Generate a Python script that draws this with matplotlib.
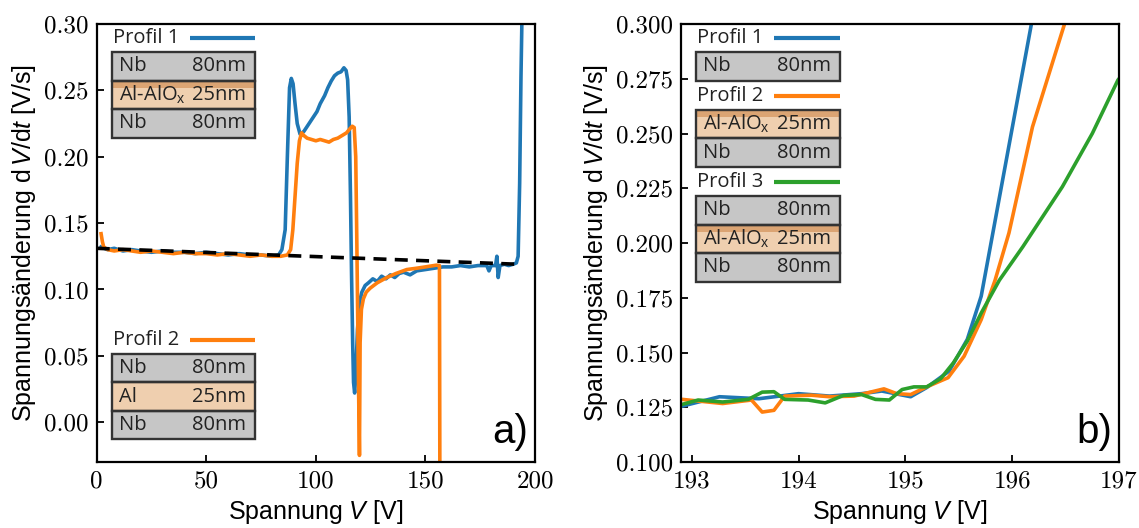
import numpy as np
import matplotlib
matplotlib.use("Agg")
import matplotlib.pyplot as plt
from matplotlib.patches import Rectangle
from matplotlib.ticker import FormatStrFormatter

plt.rcParams['font.family'] = ['Liberation Sans', 'DejaVu Sans']
plt.rcParams['mathtext.fontset'] = 'custom'
plt.rcParams['mathtext.rm'] = 'Liberation Sans'
plt.rcParams['mathtext.it'] = 'Liberation Sans:italic'

# --- Daten, linkes Panel (a)
v1_a = [2, 5, 8, 12, 16, 20, 25, 30, 35, 40, 45, 50, 55, 60, 65, 70, 75, 80, 83,
        84.5, 86, 87, 88, 88.8, 89.6, 90.5, 91.5, 92.8, 94.5, 96.5, 98.5, 100.5,
        102, 104, 105.5, 107, 108.5, 110, 111.5, 112.8, 113.8, 114.5, 115.2,
        115.8, 116.3, 116.8, 117.2, 117.7, 118.2, 119, 120, 121, 122.5, 124, 126,
        128, 130, 132, 134, 136, 138, 140, 143, 146, 150, 154, 158, 162, 166,
        170, 174, 178, 179, 180, 182, 182.6, 183.2, 184, 186, 188, 190, 191.5,
        192.3, 193, 193.6, 194.2]
s1_a = [0.132, 0.130, 0.131, 0.129, 0.130, 0.129, 0.128, 0.129, 0.128, 0.128,
        0.127, 0.128, 0.127, 0.126, 0.127, 0.126, 0.126, 0.125, 0.126, 0.130,
        0.145, 0.200, 0.252, 0.259, 0.255, 0.240, 0.225, 0.217, 0.219, 0.224,
        0.229, 0.234, 0.240, 0.246, 0.252, 0.257, 0.261, 0.263, 0.264, 0.267,
        0.265, 0.258, 0.230, 0.170, 0.110, 0.060, 0.030, 0.022, 0.035, 0.070,
        0.091, 0.098, 0.103, 0.105, 0.108, 0.106, 0.110, 0.108, 0.111, 0.109,
        0.112, 0.113, 0.111, 0.114, 0.115, 0.116, 0.117, 0.117, 0.118, 0.117,
        0.118, 0.118, 0.114, 0.118, 0.118, 0.125, 0.109, 0.118, 0.119, 0.118,
        0.119, 0.120, 0.125, 0.180, 0.260, 0.320]

v2_a = [2, 2.6, 3.2, 5, 8, 12, 16, 20, 25, 30, 35, 40, 45, 50, 55, 60, 65, 70,
        75, 80, 84, 87, 88.5, 89.5, 90.5, 91.5, 92.5, 93.5, 94.5, 96, 98, 100,
        102, 104, 106, 108, 110, 112, 114, 115.5, 116.6, 117.5, 118.2, 118.7,
        119.3, 119.9, 120.2, 120.8, 121.7, 123, 124.8, 128, 132.4, 136.5, 141.5,
        146, 150, 155, 156.4, 156.6]
s2_a = [0.142, 0.136, 0.132, 0.130, 0.129, 0.130, 0.129, 0.128, 0.129, 0.128,
        0.127, 0.128, 0.127, 0.127, 0.126, 0.127, 0.126, 0.125, 0.126, 0.125,
        0.125, 0.126, 0.130, 0.145, 0.170, 0.195, 0.212, 0.218, 0.216, 0.214,
        0.213, 0.212, 0.213, 0.212, 0.211, 0.213, 0.214, 0.216, 0.218, 0.221,
        0.223, 0.222, 0.200, 0.136, 0.050, -0.025, 0.060, 0.085, 0.093, 0.098,
        0.101, 0.105, 0.109, 0.112, 0.115, 0.116, 0.117, 0.1183, 0.118, -0.05]

fit_v = [0, 192]
fit_s = [0.131, 0.119]

# --- Daten, rechtes Panel (b)
v1_b = [192.91, 193.26, 193.63, 194.0, 194.29, 194.59, 194.78, 195.05, 195.2,
        195.41, 195.58, 195.71, 196.18, 196.3]
s1_b = [0.1255, 0.1298, 0.1289, 0.1312, 0.1301, 0.1312, 0.1324, 0.1298, 0.134,
        0.1415, 0.156, 0.1757, 0.300, 0.330]

v2_b = [192.91, 193.29, 193.56, 193.66, 193.77, 193.87, 194.12, 194.29, 194.52,
        194.8, 194.92, 195.05, 195.2, 195.4, 195.55, 195.71, 195.84, 195.97,
        196.19, 196.49, 196.6]
s2_b = [0.1286, 0.1267, 0.1283, 0.1228, 0.1236, 0.1301, 0.1305, 0.1298, 0.1301,
        0.1334, 0.1312, 0.1308, 0.1343, 0.1385, 0.1483, 0.165, 0.183, 0.2046,
        0.253, 0.300, 0.315]

v3_b = [192.91, 193.06, 193.29, 193.53, 193.66, 193.77, 193.87, 194.09, 194.25,
        194.42, 194.59, 194.72, 194.85, 194.97, 195.08, 195.2, 195.33, 195.45,
        195.58, 195.71, 195.88, 196.1, 196.47, 196.75, 196.99, 197.1]
s3_b = [0.1263, 0.1283, 0.1274, 0.1286, 0.1319, 0.1321, 0.1286, 0.1283, 0.127,
        0.1304, 0.1308, 0.1286, 0.1283, 0.1331, 0.1343, 0.1343, 0.138, 0.1453,
        0.1552, 0.168, 0.183, 0.1983, 0.2257, 0.250, 0.2744, 0.281]

C1, C2, C3 = '#1f77b4', '#ff7f0e', '#2ca02c'
GRAU, ORANGE_HELL, ORANGE_DUNKEL = '#c6c6c6', '#efcfaf', '#dba473'
LW = 2.6


def schichtstapel(ax, y_text, label, farbe, schichten):
    """Zeichnet Profil-Label mit Linie und die Schichtfolge darunter."""
    px = 1 / 438.0
    x0, x1 = 0.034, 0.362
    ax.text(x0 + 1 * px, y_text, label, transform=ax.transAxes, fontsize=14.5,
            family='Open Sans', va='center', ha='left', color='#222222')
    ax.plot([0.212, x1], [y_text, y_text], transform=ax.transAxes, color=farbe,
            lw=3, solid_capstyle='butt', clip_on=False)
    h = 28.5 * px
    y = y_text - 14 * px
    for name, dicke, art in schichten:
        yb = y - h
        fc = GRAU if art == 'nb' else ORANGE_HELL
        ax.add_patch(Rectangle((x0, yb), x1 - x0, h, transform=ax.transAxes,
                               fc=fc, ec='none', zorder=5))
        if art == 'alox':
            ax.add_patch(Rectangle((x0, y - 7 * px), x1 - x0, 7 * px,
                                   transform=ax.transAxes, fc=ORANGE_DUNKEL,
                                   ec='none', zorder=5))
        ax.add_patch(Rectangle((x0, yb), x1 - x0, h, transform=ax.transAxes,
                               fc='none', ec='#333333', lw=1.7, zorder=6))
        ax.text(x0 + 7 * px, yb + h / 2, name, transform=ax.transAxes,
                fontsize=14.5, family='Open Sans', va='center', ha='left',
                color='#222222', zorder=7)
        ax.text(x1 - 9 * px, yb + h / 2, dicke, transform=ax.transAxes,
                fontsize=14.5, family='Open Sans', va='center', ha='right',
                color='#222222', zorder=7)
        y = yb


fig = plt.figure(figsize=(11.39, 5.28), dpi=100)
ax1 = fig.add_axes([96.7 / 1139, 1 - 462 / 528, 438.3 / 1139, 438 / 528])
ax2 = fig.add_axes([681 / 1139, 1 - 462 / 528, 438 / 1139, 438 / 528])

# a)
ax1.plot(v1_a, s1_a, color=C1, lw=LW)
ax1.plot(v2_a, s2_a, color=C2, lw=LW)
ax1.plot(fit_v, fit_s, color='k', lw=LW, ls=(0, (3.6, 2.3)))
ax1.set_xlim(0, 200)
ax1.set_ylim(-0.03, 0.30)
ax1.set_xticks([0, 50, 100, 150, 200])
ax1.set_yticks([0.0, 0.05, 0.10, 0.15, 0.20, 0.25, 0.30])
ax1.yaxis.set_major_formatter(FormatStrFormatter('%.2f'))
ax1.text(0.985, 0.025, 'a)', transform=ax1.transAxes, fontsize=29,
         ha='right', va='bottom')
schichtstapel(ax1, 0.968, 'Profil 1', C1,
              [('Nb', '80nm', 'nb'), ('Al-AlO$_\\mathrm{x}$', '25nm', 'alox'),
               ('Nb', '80nm', 'nb')])
schichtstapel(ax1, 0.279, 'Profil 2', C2,
              [('Nb', '80nm', 'nb'), ('Al', '25nm', 'al'), ('Nb', '80nm', 'nb')])

# b)
ax2.plot(v1_b, s1_b, color=C1, lw=LW)
ax2.plot(v2_b, s2_b, color=C2, lw=LW)
ax2.plot(v3_b, s3_b, color=C3, lw=LW)
ax2.set_xlim(192.9, 197)
ax2.set_ylim(0.1, 0.3)
ax2.set_xticks([193, 194, 195, 196, 197])
ax2.set_yticks(np.arange(0.1, 0.3001, 0.025))
ax2.yaxis.set_major_formatter(FormatStrFormatter('%.3f'))
ax2.text(0.985, 0.025, 'b)', transform=ax2.transAxes, fontsize=29,
         ha='right', va='bottom')
schichtstapel(ax2, 0.968, 'Profil 1', C1, [('Nb', '80nm', 'nb')])
schichtstapel(ax2, 0.836, 'Profil 2', C2,
              [('Al-AlO$_\\mathrm{x}$', '25nm', 'alox'), ('Nb', '80nm', 'nb')])
schichtstapel(ax2, 0.639, 'Profil 3', C3,
              [('Nb', '80nm', 'nb'), ('Al-AlO$_\\mathrm{x}$', '25nm', 'alox'),
               ('Nb', '80nm', 'nb')])

for ax in (ax1, ax2):
    for sp in ax.spines.values():
        sp.set_linewidth(1.6)
    ax.tick_params(direction='in', length=5, width=1.3, labelsize=18, pad=6)
    for lab in ax.get_xticklabels() + ax.get_yticklabels():
        lab.set_family('cmr10')
    ax.set_xlabel('Spannung $V$ [V]', fontsize=18)
    ax.set_ylabel('Spannungsänderung d$\\,V$/d$t$ [V/s]', fontsize=18)

fig.savefig('out.png', dpi=100)
